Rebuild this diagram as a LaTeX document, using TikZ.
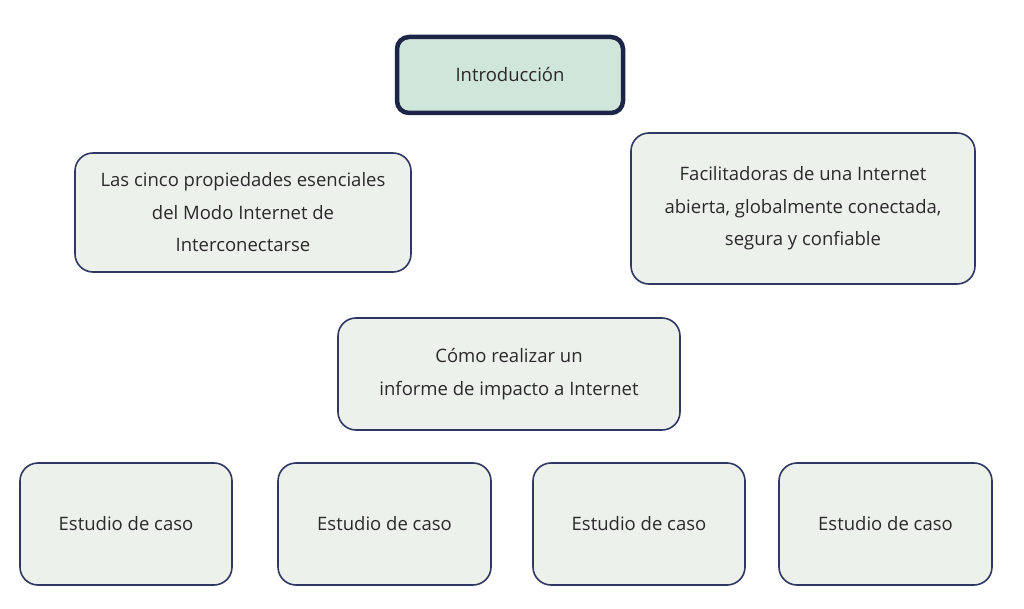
\documentclass[tikz,border=0pt]{standalone}
\usepackage{fontspec}
\setmainfont{Open Sans}
\begin{document}
\begin{tikzpicture}[x=1pt,y=-1pt,
  box/.style={draw=navy, line width=1.6pt, fill=boxfill, rounded corners=18pt, align=center, text=txt, font=\fontsize{18.5}{32.5}\selectfont, inner sep=0pt},
  introbox/.style={box, draw=navydark, line width=4.5pt, fill=introfill, rounded corners=12pt}
]
\definecolor{navy}{HTML}{2E3862}
\definecolor{navydark}{HTML}{1C2447}
\definecolor{boxfill}{HTML}{EDF1EC}
\definecolor{introfill}{HTML}{D0E6DA}
\definecolor{txt}{HTML}{2A2A2A}
\useasboundingbox (0,0) rectangle (1024,609);
\node[introbox, minimum width=226pt, minimum height=76pt] (intro) at (510,75) {Introducción};
\node[box, minimum width=336pt, minimum height=119pt] (props) at (243,212.5) {Las cinco propiedades esenciales\\del Modo Internet de\\Interconectarse};
\node[box, minimum width=344pt, minimum height=151pt] (facil) at (803,208.5) {Facilitadoras de una Internet\\abierta, globalmente conectada,\\segura y confiable};
\node[box, minimum width=342pt, minimum height=112pt] (como) at (509,374) {Cómo realizar un\\informe de impacto a Internet};
\foreach \i/\a/\b in {1/20/232,2/278/491,3/533/745,4/779/992}{
  \node[box, minimum width={\b-\a}, minimum height=122pt] (caso\i) at ({(\a+\b)/2},524) {Estudio de caso};
}
\end{tikzpicture}
\end{document}
